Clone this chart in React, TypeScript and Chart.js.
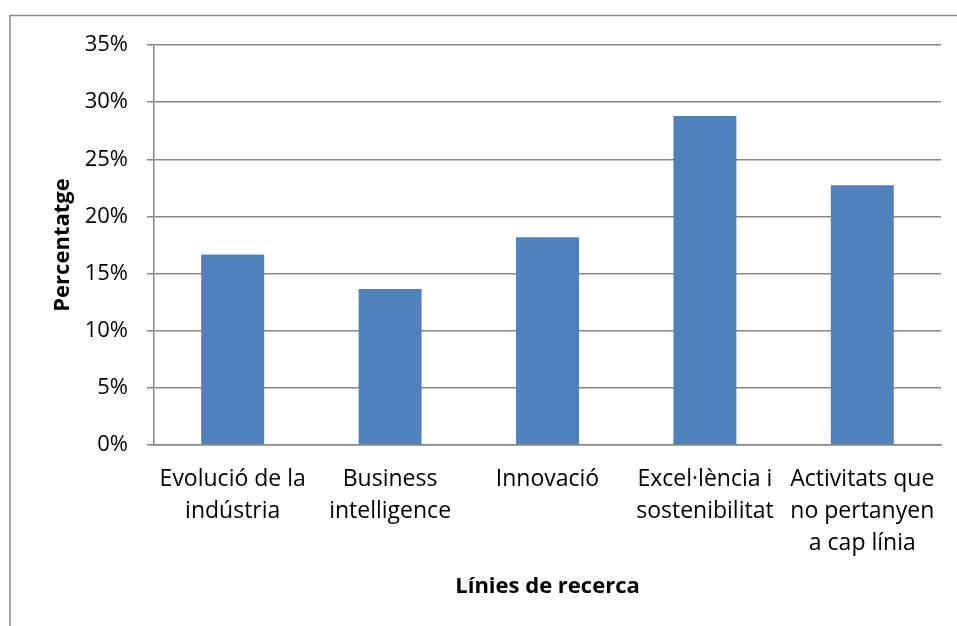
import React, { useEffect, useRef } from 'react';
import { Chart, registerables } from 'chart.js';

Chart.register(...registerables);

const categories: string[][] = [
  ['Evolució de la', 'indústria'],
  ['Business', 'intelligence'],
  ['Innovació'],
  ['Excel·lència i', 'sostenibilitat'],
  ['Activitats que', 'no pertanyen', 'a cap línia'],
];
const percentages: number[] = [16.67, 13.64, 18.18, 28.79, 22.73];
const yMin = 0;
const yMax = 35;
const yStep = 5;
const yTitle = 'Percentatge';
const xTitle = 'Línies de recerca';

const FONT = "'Open Sans', 'DejaVu Sans', sans-serif";
const GRID = '#878787';

const framePlugin = {
  id: 'frame',
  beforeDraw(chart: any) {
    const ctx = chart.ctx;
    ctx.save();
    ctx.fillStyle = '#ffffff';
    ctx.fillRect(0, 0, chart.width, chart.height);
    ctx.strokeStyle = '#8a8a8a';
    ctx.lineWidth = 1.5;
    ctx.strokeRect(10, 15.5, 1200, 1200);
    ctx.restore();
  },
};

export default function App() {
  const ref = useRef<HTMLCanvasElement | null>(null);
  useEffect(() => {
    if (!ref.current) return;
    const chart = new Chart(ref.current, {
      type: 'bar',
      data: {
        labels: categories,
        datasets: [
          {
            data: percentages,
            backgroundColor: '#4F81BD',
            borderWidth: 0,
            barPercentage: 0.4,
            categoryPercentage: 1,
          },
        ],
      },
      plugins: [framePlugin],
      options: {
        animation: false,
        responsive: false,
        maintainAspectRatio: false,
        devicePixelRatio: 1,
        layout: { padding: { left: 0, right: 16, top: 45, bottom: 0 } },
        plugins: {
          legend: { display: false },
          tooltip: { enabled: false },
        },
        scales: {
          x: {
            grid: { display: false, drawTicks: false },
            border: { display: true, color: GRID, width: 1.5 },
            ticks: {
              color: '#000',
              font: { family: FONT, size: 23, lineHeight: 1.38 },
              padding: 19,
              maxRotation: 0,
              autoSkip: false,
            },
            title: {
              display: true,
              text: xTitle,
              color: '#000',
              font: { family: FONT, size: 22, weight: 'bold', lineHeight: 1.2 },
              padding: { top: 0, bottom: 26 },
            },
            afterFit: (scale: any) => {
              scale.height = 181;
            },
          },
          y: {
            min: yMin,
            max: yMax,
            grid: { color: GRID, lineWidth: 1.5, drawTicks: true, tickLength: 7 },
            border: { display: true, color: GRID, width: 1.5 },
            ticks: {
              stepSize: yStep,
              color: '#000',
              font: { family: FONT, size: 22 },
              padding: 19,
              callback: (v: any) => v + '%',
            },
            title: {
              display: true,
              text: yTitle,
              color: '#000',
              font: { family: FONT, size: 22, weight: 'bold', lineHeight: 1.2 },
              padding: { top: 50, bottom: 0 },
            },
            afterFit: (scale: any) => {
              scale.width = 154;
            },
          },
        },
      },
    });
    return () => chart.destroy();
  }, []);
  return (
    <div style={{ position: 'fixed', left: 0, top: 0, width: 957, height: 626, background: '#fff' }}>
      <canvas ref={ref} width={957} height={626} style={{ width: 957, height: 626, display: 'block' }} />
    </div>
  );
}
